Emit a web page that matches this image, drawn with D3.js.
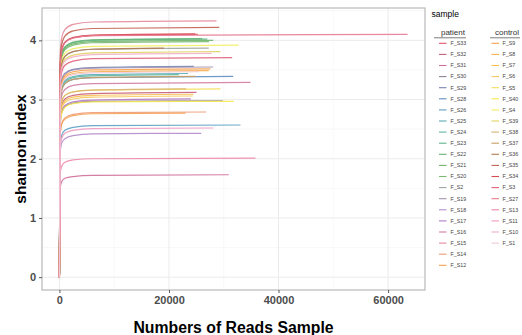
<!DOCTYPE html>
<html>
<head>
<meta charset="utf-8">
<script src="https://cdn.jsdelivr.net/npm/d3@7"></script>
<style>
  body { margin: 0; background: #fff; }
  svg { display: block; font-family: "Liberation Sans", Arial, sans-serif; }
</style>
</head>
<body>
<div id="chart"></div>
<script>
// legend order, patient first then control
const samples = ['F_S33', 'F_S32', 'F_S31', 'F_S30', 'F_S29', 'F_S28', 'F_S26', 'F_S25', 'F_S24', 'F_S23', 'F_S22',
    'F_S21', 'F_S20', 'F_S2', 'F_S19', 'F_S18', 'F_S17', 'F_S16', 'F_S15', 'F_S14', 'F_S12',
    'F_S9', 'F_S8', 'F_S7', 'F_S6', 'F_S5', 'F_S40', 'F_S4', 'F_S39', 'F_S38', 'F_S37', 'F_S36',
    'F_S35', 'F_S34', 'F_S3', 'F_S27', 'F_S13', 'F_S11', 'F_S10', 'F_S1'];
const groups = ['patient', 'control'];
const sampleGroup = samples.map((s, i) => i < 21 ? 'patient' : 'control');

const colors = ['#e2566c', '#c8607a', '#d0709a', '#8e7f96', '#7482b2', '#5f8ec0', '#5da0c2', '#58abb4', '#5db6a2',
    '#5fb58a', '#64b172', '#70b56a', '#7cb972', '#9ea69e', '#a292b2', '#b48cca', '#b27ac2', '#d27ca2', '#e58a9c',
    '#ee9b78', '#f5a052',
    '#f6a04e', '#f7b052', '#f8c052', '#f5c862', '#f5de5e', '#f6e952', '#f4ee62', '#e2d262', '#d9b272', '#c99c62',
    '#b07a52', '#c26252', '#d84a52', '#e0627a', '#e57a92', '#ee8aa8', '#f09ac0', '#f1b0c8', '#f0c8d8'];

// rarefaction depths (reads) where each curve was sampled; the last point is the sample's total reads
const depthSteps = [0, 150, 400, 1000, 2500, 6000];
const maxReads = [25270, 25030, 30920, 29830, 24540, 31720, 33050, 23500, 21800, 27000, 26070,
    28080, 27300, 27270, 28080, 25890, 24000, 34880, 28680, 26800, 23030,
    27580, 27270, 24480, 24360, 29410, 31830, 32740, 29410, 23150, 24850, 19070,
    29170, 24800, 31540, 63560, 35790, 28080, 27770, 25500];

// shannon index at depthSteps, then at maxReads
const shannon = [
    [0, 3.57, 3.81, 3.96, 4.04, 4.08, 4.10],
    [0, 2.71, 2.90, 3.01, 3.07, 3.10, 3.12],
    [0, 1.51, 1.61, 1.67, 1.70, 1.72, 1.73],
    [0, 2.59, 2.77, 2.88, 2.94, 2.97, 2.98],
    [0, 3.10, 3.31, 3.44, 3.51, 3.54, 3.56],
    [0, 2.95, 3.15, 3.27, 3.34, 3.37, 3.39],
    [0, 2.24, 2.39, 2.48, 2.53, 2.56, 2.57],
    [0, 2.99, 3.20, 3.32, 3.39, 3.42, 3.44],
    [0, 2.98, 3.18, 3.30, 3.37, 3.40, 3.42],
    [0, 3.50, 3.74, 3.88, 3.96, 4.00, 4.02],
    [0, 3.51, 3.75, 3.89, 3.97, 4.01, 4.03],
    [0, 3.48, 3.72, 3.86, 3.94, 3.98, 4.00],
    [0, 3.46, 3.70, 3.84, 3.92, 3.96, 3.98],
    [0, 3.37, 3.60, 3.73, 3.81, 3.85, 3.87],
    [0, 3.09, 3.30, 3.43, 3.50, 3.53, 3.55],
    [0, 2.11, 2.26, 2.34, 2.39, 2.42, 2.43],
    [0, 2.62, 2.80, 2.90, 2.96, 2.99, 3.01],
    [0, 2.86, 3.06, 3.17, 3.24, 3.27, 3.29],
    [0, 3.77, 4.03, 4.18, 4.27, 4.31, 4.33],
    [0, 2.43, 2.59, 2.69, 2.75, 2.78, 2.79],
    [0, 2.41, 2.58, 2.67, 2.73, 2.76, 2.77],
    [0, 3.06, 3.27, 3.40, 3.47, 3.50, 3.52],
    [0, 3.04, 3.25, 3.37, 3.44, 3.47, 3.49],
    [0, 2.69, 2.87, 2.98, 3.04, 3.07, 3.09],
    [0, 2.66, 2.85, 2.95, 3.01, 3.04, 3.06],
    [0, 2.77, 2.96, 3.07, 3.13, 3.16, 3.18],
    [0, 2.58, 2.76, 2.87, 2.93, 2.96, 2.97],
    [0, 3.41, 3.65, 3.78, 3.86, 3.90, 3.92],
    [0, 3.31, 3.54, 3.68, 3.75, 3.79, 3.81],
    [0, 2.77, 2.96, 3.07, 3.13, 3.16, 3.18],
    [0, 2.95, 3.15, 3.27, 3.34, 3.37, 3.39],
    [0, 3.37, 3.60, 3.73, 3.81, 3.85, 3.87],
    [0, 3.67, 3.92, 4.07, 4.16, 4.20, 4.22],
    [0, 3.58, 3.82, 3.97, 4.05, 4.09, 4.11],
    [0, 3.23, 3.45, 3.58, 3.65, 3.69, 3.71],
    [0, 3.57, 3.81, 3.96, 4.04, 4.08, 4.10],
    [0, 1.75, 1.87, 1.94, 1.98, 2.00, 2.01],
    [0, 2.19, 2.34, 2.43, 2.48, 2.51, 2.52],
    [0, 3.29, 3.52, 3.65, 3.72, 3.76, 3.78],
    [0, 3.02, 3.23, 3.35, 3.42, 3.45, 3.47]
];

const xTicks = [0, 20000, 40000, 60000];
const yTicks = [0, 1, 2, 3, 4];

const W = 522, H = 335;
const panel = { left: 42, right: 425, top: 8, bottom: 290 };

const svg = d3.select('#chart').append('svg')
    .attr('width', W)
    .attr('height', H);

const series = samples.map((name, i) => ({
    name: name,
    group: sampleGroup[i],
    color: colors[i],
    points: depthSteps.concat([maxReads[i]]).map((d, j) => [d, shannon[i][j]])
}));

// ggplot style 5% expansion
const xMax = d3.max(maxReads);
const yMax = d3.max(shannon, r => d3.max(r));
const x = d3.scaleLinear()
    .domain([-xMax * 0.05, xMax * 1.05])
    .range([panel.left, panel.right]);
const y = d3.scaleLinear()
    .domain([-yMax * 0.05, yMax * 1.05])
    .range([panel.bottom, panel.top]);

const g = svg.append('g');

g.append('rect')
    .attr('x', panel.left)
    .attr('y', panel.top)
    .attr('width', panel.right - panel.left)
    .attr('height', panel.bottom - panel.top)
    .attr('fill', '#fff');

// minor grid
const xMinor = [10000, 30000, 50000];
const yMinor = [0.5, 1.5, 2.5, 3.5, 4.5];
g.selectAll('.xminor').data(xMinor).enter().append('line')
    .attr('x1', d => x(d)).attr('x2', d => x(d))
    .attr('y1', panel.top).attr('y2', panel.bottom)
    .attr('stroke', '#f4f4f4').attr('stroke-width', 0.6);
g.selectAll('.yminor').data(yMinor).enter().append('line')
    .attr('y1', d => y(d)).attr('y2', d => y(d))
    .attr('x1', panel.left).attr('x2', panel.right)
    .attr('stroke', '#f4f4f4').attr('stroke-width', 0.6);
// major grid
g.selectAll('.xmajor').data(xTicks).enter().append('line')
    .attr('x1', d => x(d)).attr('x2', d => x(d))
    .attr('y1', panel.top).attr('y2', panel.bottom)
    .attr('stroke', '#ebebeb').attr('stroke-width', 1);
g.selectAll('.ymajor').data(yTicks).enter().append('line')
    .attr('y1', d => y(d)).attr('y2', d => y(d))
    .attr('x1', panel.left).attr('x2', panel.right)
    .attr('stroke', '#ebebeb').attr('stroke-width', 1);

const line = d3.line()
    .x(d => x(d[0]))
    .y(d => y(d[1]))
    .curve(d3.curveMonotoneX);

g.append('g')
    .selectAll('path')
    .data(series)
    .enter()
    .append('path')
    .attr('d', d => line(d.points))
    .attr('fill', 'none')
    .attr('stroke', d => d.color)
    .attr('stroke-width', 1.2)
    .attr('stroke-opacity', 0.9);

g.append('rect')
    .attr('x', panel.left)
    .attr('y', panel.top)
    .attr('width', panel.right - panel.left)
    .attr('height', panel.bottom - panel.top)
    .attr('fill', 'none')
    .attr('stroke', '#b3b3b3')
    .attr('stroke-width', 1.1);

// axes
const xAxis = svg.append('g')
    .attr('transform', 'translate(0,' + panel.bottom + ')')
    .call(d3.axisBottom(x).tickValues(xTicks).tickFormat(d3.format('d')).tickSize(3).tickPadding(3));
const yAxis = svg.append('g')
    .attr('transform', 'translate(' + panel.left + ',0)')
    .call(d3.axisLeft(y).tickValues(yTicks).tickFormat(d3.format('d')).tickSize(3).tickPadding(3));
[xAxis, yAxis].forEach(a => {
    a.select('.domain').remove();
    a.selectAll('.tick line').attr('stroke', '#333').attr('stroke-width', 0.8);
    a.selectAll('.tick text')
        .attr('fill', '#4d4d4d')
        .style('font-size', '11px')
        .style('font-weight', 'bold')
        .style('font-family', '"Liberation Sans", Arial, sans-serif');
});

svg.append('text')
    .attr('transform', 'translate(26,' + ((panel.top + panel.bottom) / 2) + ') rotate(-90)')
    .attr('text-anchor', 'middle')
    .style('font-size', '15.5px')
    .style('font-weight', 'bold')
    .text('shannon index');

svg.append('text')
    .attr('x', (panel.left + panel.right) / 2)
    .attr('y', 333)
    .attr('text-anchor', 'middle')
    .style('font-size', '15.8px')
    .style('font-weight', 'bold')
    .text('Numbers of Reads Sample');

// legend
const legend = svg.append('g');
legend.append('text')
    .attr('x', 431.5)
    .attr('y', 17)
    .style('font-size', '8.5px')
    .text('sample');

const cols = {
    patient: { ulx1: 434, ulx2: 466, keyx: 439, textx: 450.5 },
    control: { ulx1: 490, ulx2: 520, keyx: 491.5, textx: 502.5 }
};
const rowY = d3.scaleLinear().domain([0, 1]).range([43.3, 54.4]);

groups.forEach(grp => {
    const c = cols[grp];
    legend.append('text')
        .attr('x', c.ulx2 - 1)
        .attr('y', 35)
        .attr('text-anchor', 'end')
        .attr('fill', '#333')
        .style('font-size', '8px')
        .text(grp);
    legend.append('line')
        .attr('x1', c.ulx1).attr('x2', c.ulx2)
        .attr('y1', 37.8).attr('y2', 37.8)
        .attr('stroke', '#444').attr('stroke-width', 0.7);

    const items = series.filter(s => s.group === grp);
    const rows = legend.append('g').selectAll('g')
        .data(items)
        .enter()
        .append('g')
        .attr('transform', (d, i) => 'translate(0,' + rowY(i) + ')');
    rows.append('line')
        .attr('x1', c.keyx).attr('x2', c.keyx + 7.5)
        .attr('y1', 0).attr('y2', 0)
        .attr('stroke', d => d.color)
        .attr('stroke-width', 1.1);
    rows.append('text')
        .attr('x', c.textx)
        .attr('y', 0)
        .attr('dy', '0.35em')
        .attr('fill', '#444')
        .style('font-size', '5.3px')
        .text(d => d.name);
});
</script>
</body>
</html>
